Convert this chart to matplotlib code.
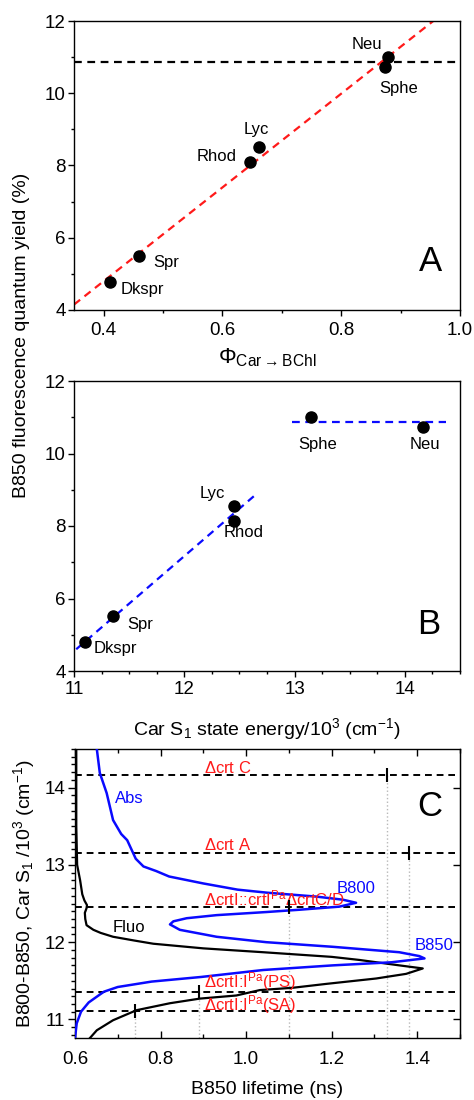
import numpy as np
import matplotlib
matplotlib.use("Agg")
import matplotlib.pyplot as plt
from matplotlib.ticker import MultipleLocator

plt.rcParams['font.family'] = ['Liberation Sans', 'DejaVu Sans']
plt.rcParams['mathtext.fontset'] = 'custom'
plt.rcParams['mathtext.rm'] = 'Liberation Sans'
plt.rcParams['mathtext.it'] = 'Liberation Sans:italic'
plt.rcParams['mathtext.bf'] = 'Liberation Sans:bold'

# carotenoid samples
names = ['Dkspr', 'Spr', 'Rhod', 'Lyc', 'Sphe', 'Neu']
phi_transfer = [0.41, 0.459, 0.646, 0.662, 0.873, 0.879]
qy_A = [4.78, 5.49, 8.10, 8.52, 10.72, 10.99]
s1_energy = [11.10, 11.35, 12.45, 12.45, 13.15, 14.16]
qy_B = [4.81, 5.53, 8.14, 8.55, 11.02, 10.74]

# fitted lines
fitA_x = [0.35, 0.955]
fitA_y = [4.15, 12.0]
plateau_A = 10.87
fitB_x = [11.02, 12.63]
fitB_y = [4.60, 8.82]
plateauB_x = [12.98, 14.37]
plateauB_y = [10.87, 10.87]

# panel C: mutants, S1 energy and B850 lifetime
mutants = [r'$\Delta$crt C', r'$\Delta$crt A',
           r'$\Delta$crtI::crtI$^{\mathrm{Pa}}$$\Delta$crtC/D',
           r'$\Delta$crtI:I$^{\mathrm{Pa}}$(PS)', r'$\Delta$crtI:I$^{\mathrm{Pa}}$(SA)']
mut_energy = [14.16, 13.16, 12.46, 11.35, 11.11]
mut_lifetime = [1.33, 1.38, 1.10, 0.89, 0.74]

abs_energy = [14.50, 14.19, 13.93, 13.58, 13.40, 13.32, 13.20, 13.08, 12.98, 12.92,
              12.85, 12.76, 12.68, 12.64, 12.59, 12.55, 12.51, 12.46, 12.42, 12.39,
              12.35, 12.31, 12.27, 12.23, 12.16, 12.07, 12.00, 11.94, 11.87, 11.82,
              11.79, 11.74, 11.70, 11.64, 11.55, 11.49, 11.42, 11.36, 11.33, 11.22,
              11.10, 10.95, 10.76]
abs_x = [0.651, 0.658, 0.674, 0.689, 0.708, 0.722, 0.732, 0.742, 0.760, 0.790,
         0.820, 0.900, 0.980, 1.050, 1.164, 1.226, 1.257, 1.218, 1.125, 1.047,
         0.931, 0.861, 0.830, 0.822, 0.845, 0.931, 1.047, 1.203, 1.358, 1.405,
         1.417, 1.340, 1.203, 1.040, 0.895, 0.779, 0.700, 0.668, 0.660, 0.632,
         0.614, 0.604, 0.600]

fluo_energy = [14.50, 13.50, 13.00, 12.80, 12.62, 12.54, 12.48, 12.44, 12.38, 12.30,
               12.22, 12.16, 12.12, 12.07, 12.02, 11.98, 11.92, 11.87, 11.81, 11.77,
               11.70, 11.66, 11.59, 11.53, 11.46, 11.41, 11.38, 11.31, 11.27, 11.21,
               11.12, 10.99, 10.86, 10.76]
fluo_x = [0.603, 0.603, 0.605, 0.612, 0.617, 0.622, 0.628, 0.627, 0.623, 0.624,
          0.627, 0.643, 0.660, 0.689, 0.740, 0.783, 0.900, 1.040, 1.200, 1.265,
          1.358, 1.413, 1.374, 1.304, 1.187, 1.109, 1.032, 0.977, 0.892, 0.822,
          0.744, 0.689, 0.651, 0.635]

tick_fs = 13.5
label_fs = 14
name_fs = 12
blue = '#0a0aff'
red = '#ff1a1a'

fig = plt.figure(figsize=(4.74, 11), dpi=100)
W, H = 474, 1100


def px_axes(l, t, r, b):
    return fig.add_axes([l / W, 1 - b / H, (r - l) / W, (b - t) / H])


axA = px_axes(74, 21, 460, 310)
axB = px_axes(74, 381, 460, 671)
axC = px_axes(75, 749, 460, 1038)

for ax in (axA, axB, axC):
    for s in ax.spines.values():
        s.set_linewidth(1.0)

# ---- panel A
axA.axhline(plateau_A, color='k', ls=(0, (3.5, 2.5)), lw=1.6, zorder=1)
axA.plot(fitA_x, fitA_y, color=red, ls=(0, (3.5, 2.5)), lw=1.6, zorder=2)
axA.plot(phi_transfer, qy_A, 'o', color='k', ms=8, zorder=3)
labA = {'Neu': (0.817, 11.35), 'Sphe': (0.864, 10.14), 'Lyc': (0.636, 9.0),
        'Rhod': (0.556, 8.24), 'Spr': (0.484, 5.32), 'Dkspr': (0.429, 4.57)}
for n in names:
    axA.text(*labA[n], n, fontsize=name_fs, va='center', ha='left')
axA.text(0.953, 0.167, 'A', transform=axA.transAxes, fontsize=25, ha='right', va='center')
axA.set_xlim(0.35, 1.0)
axA.set_ylim(4, 12)
axA.xaxis.set_major_locator(MultipleLocator(0.2))
axA.xaxis.set_minor_locator(MultipleLocator(0.1))
axA.yaxis.set_major_locator(MultipleLocator(2))
axA.yaxis.set_minor_locator(MultipleLocator(1))
axA.set_xlabel(r'$\Phi_{\mathrm{Car}\rightarrow\mathrm{BChl}}$', fontsize=label_fs + 2, labelpad=5)

# ---- panel B
axB.plot(fitB_x, fitB_y, color=blue, ls=(0, (3.5, 2.5)), lw=1.6, zorder=2)
axB.plot(plateauB_x, plateauB_y, color=blue, ls=(0, (3.5, 2.5)), lw=1.6, zorder=2)
axB.plot(s1_energy, qy_B, 'o', color='k', ms=8, zorder=3)
labB = {'Neu': (14.04, 10.25), 'Sphe': (13.03, 10.25), 'Lyc': (12.14, 8.9),
        'Rhod': (12.36, 7.83), 'Spr': (11.48, 5.29), 'Dkspr': (11.18, 4.62)}
for n in names:
    axB.text(*labB[n], n, fontsize=name_fs, va='center', ha='left')
axB.text(0.948, 0.162, 'B', transform=axB.transAxes, fontsize=25, ha='right', va='center')
axB.set_xlim(11, 14.5)
axB.set_ylim(4, 12)
axB.xaxis.set_major_locator(MultipleLocator(1))
axB.xaxis.set_minor_locator(MultipleLocator(0.25))
axB.yaxis.set_major_locator(MultipleLocator(2))
axB.yaxis.set_minor_locator(MultipleLocator(1))
axB.set_xlabel(r'Car S$_1$ state energy/10$^3$ (cm$^{-1}$)', fontsize=label_fs, labelpad=13)

for ax in (axA, axB):
    ax.tick_params(which='major', direction='out', length=4, width=1, labelsize=tick_fs, pad=2)
    ax.tick_params(which='minor', direction='out', length=2.5, width=1)
axA.tick_params(axis='x', which='major', pad=5)
axB.tick_params(axis='x', which='major', pad=3.5)

fig.text(22 / W, 1 - 335 / H, 'B850 fluorescence quantum yield (%)', rotation=90,
         fontsize=label_fs, ha='center', va='center')

# ---- panel C
axC.set_xlim(0.6, 1.5)
axC.set_ylim(10.76, 14.5)
for e in mut_energy:
    axC.axhline(e, xmax=0.988, color='k', ls=(0, (3.5, 2.5)), lw=1.4, zorder=1)
ybot = axC.get_ylim()[0]
axC.vlines(mut_lifetime, ybot, mut_energy, colors='#b8b8b8', linestyles=':', lw=1, zorder=0)
axC.plot(fluo_x, fluo_energy, color='k', lw=1.6, zorder=2)
axC.plot(abs_x, abs_energy, color=blue, lw=1.8, zorder=3)
axC.plot(mut_lifetime, mut_energy, '|', color='k', ms=10, mew=1.5, zorder=4)

mut_text_y = [14.26, 13.26, 12.57, 11.49, 11.19]
for t, y in zip(mutants, mut_text_y):
    axC.text(0.901, y, t, color=red, fontsize=name_fs, va='center', ha='left')
axC.text(0.693, 13.86, 'Abs', color=blue, fontsize=name_fs, va='center')
axC.text(0.689, 12.19, 'Fluo', color='k', fontsize=name_fs, va='center')
axC.text(1.212, 12.70, 'B800', color=blue, fontsize=name_fs, va='center')
axC.text(1.393, 11.96, 'B850', color=blue, fontsize=name_fs, va='center')
axC.text(0.953, 0.80, 'C', transform=axC.transAxes, fontsize=25, ha='right', va='center')

axC.xaxis.set_major_locator(MultipleLocator(0.2))
axC.xaxis.set_minor_locator(MultipleLocator(0.1))
axC.yaxis.set_major_locator(MultipleLocator(1))
axC.yaxis.set_minor_locator(MultipleLocator(0.1))
axC.tick_params(axis='x', which='major', direction='in', top=True, length=5, width=1,
                labelsize=tick_fs, pad=9)
axC.tick_params(axis='x', which='minor', direction='in', top=True, length=3, width=1)
axC.tick_params(axis='y', which='major', direction='out', length=5, width=1,
                labelsize=tick_fs, pad=2)
axC.tick_params(axis='y', which='minor', direction='out', length=3, width=1)
secC = axC.secondary_yaxis('right')
secC.yaxis.set_major_locator(MultipleLocator(1))
secC.tick_params(direction='in', length=5, width=1, labelright=False)
secC.yaxis.set_minor_locator(MultipleLocator(10))
axC.set_xlabel('B850 lifetime (ns)', fontsize=label_fs, labelpad=10)
axC.set_ylabel(r'B800-B850, Car S$_1$ /10$^3$ (cm$^{-1}$)', fontsize=label_fs, labelpad=5)

fig.savefig('out.png', dpi=100)
